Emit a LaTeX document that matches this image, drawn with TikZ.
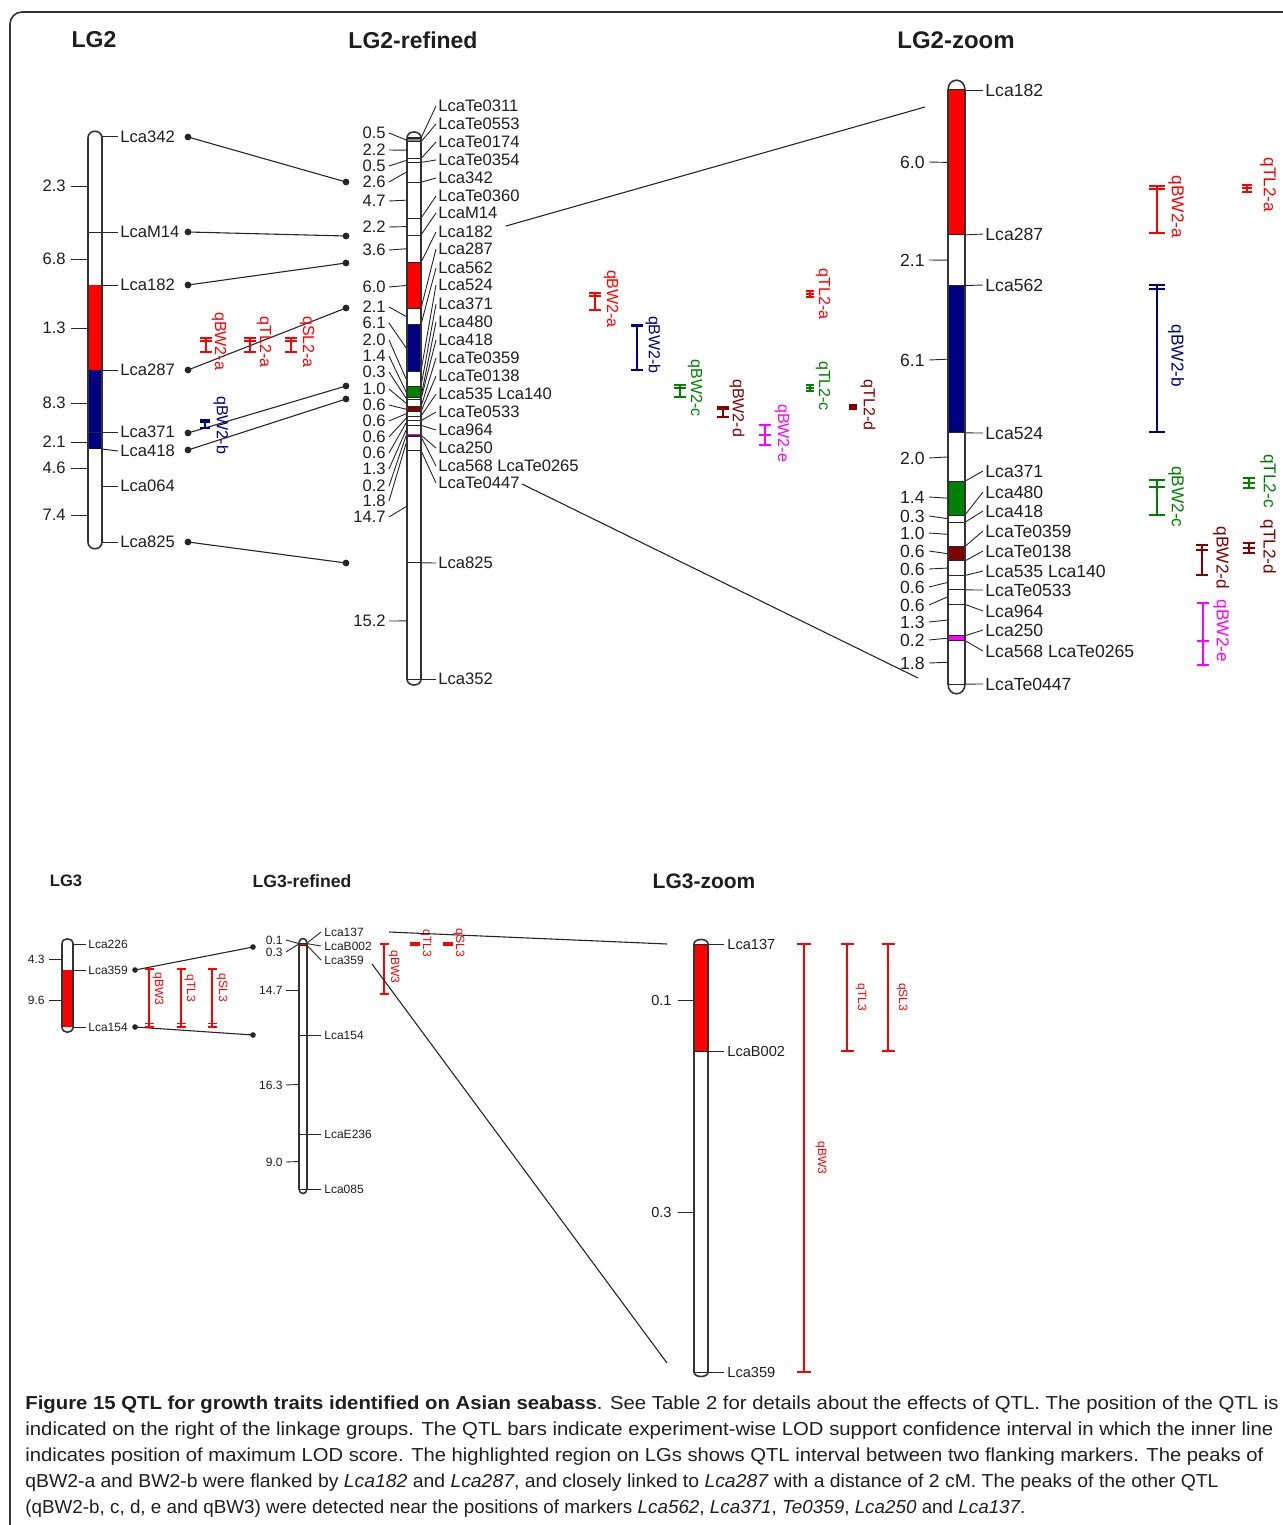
\documentclass[tikz,border=0pt]{standalone}
\usepackage{fontspec}
\usepackage{graphicx}
\setmainfont{Liberation Sans}
\definecolor{ink}{HTML}{1E1E1E}
\definecolor{qred}{HTML}{FF0000}
\definecolor{qnavy}{HTML}{000080}
\definecolor{qgreen}{HTML}{008000}
\definecolor{qdred}{HTML}{800000}
\definecolor{qmag}{HTML}{FF00FF}
\newcommand\chromo[5]{%
  \draw[chromline] (#1,#3) .. controls (#1,#3-#5) and (#2,#3-#5) .. (#2,#3) -- (#2,#4) .. controls (#2,#4+#5) and (#1,#4+#5) .. (#1,#4) -- cycle;}
% x, y1, y2, half width, colour, peak y
\newcommand\qtlbar[6]{%
  \draw[qline,#5] (#1-#4,#2) -- (#1+#4,#2) (#1,#2) -- (#1,#3) (#1-#4,#3) -- (#1+#4,#3) (#1-#4,#6) -- (#1+#4,#6);}
\newcommand\capline[4]{\node[capl] (#1) at (25,#2) {\resizebox{#3}{\height}{#4}};}
\begin{document}
\begin{tikzpicture}[x=0.5pt,y=-0.5pt,
  chromline/.style={draw=black!80,line width=0.8pt},
  mline/.style={draw=black!85,line width=0.5pt},
  lead/.style={draw=black!85,line width=0.45pt},
  link/.style={draw=black!85,line width=0.55pt},
  qline/.style={line width=0.6pt},
  mlab/.style={anchor=west,inner sep=0pt,text=ink,font=\fontsize{8.3}{9}\selectfont},
  dlab/.style={anchor=east,inner sep=0pt,text=ink,font=\fontsize{8.3}{9}\selectfont},
  zlab/.style={anchor=west,inner sep=0pt,text=ink,font=\fontsize{8.8}{9}\selectfont},
  zdlab/.style={anchor=east,inner sep=0pt,text=ink,font=\fontsize{8.8}{9}\selectfont},
  slab/.style={anchor=west,inner sep=0pt,text=ink,font=\fontsize{6}{7}\selectfont},
  sdlab/.style={anchor=east,inner sep=0pt,text=ink,font=\fontsize{6}{7}\selectfont},
  zslab/.style={anchor=west,inner sep=0pt,text=ink,font=\fontsize{7.3}{8}\selectfont},
  zsdlab/.style={anchor=east,inner sep=0pt,text=ink,font=\fontsize{7.3}{8}\selectfont},
  qlab/.style={rotate=-90,inner sep=0pt,font=\fontsize{8}{9}\selectfont},
  zqlab/.style={rotate=-90,inner sep=0pt,font=\fontsize{8.6}{9}\selectfont},
  sqlab/.style={rotate=-90,inner sep=0pt,font=\fontsize{6}{7}\selectfont},
  head/.style={inner sep=0pt,text=ink,font=\bfseries\fontsize{11.5}{12}\selectfont},
  dot/.style={fill=black!85},
  capl/.style={anchor=base west,inner sep=0pt,text=ink,font=\fontsize{9.4}{10}\selectfont},
]
\useasboundingbox (0,0) rectangle (1282,1525);
% frame
\draw[black!80,line width=0.8pt,rounded corners=6pt] (10,1545) -- (10,12) -- (1300,12);

% headings
\node[head] (hLG2) at (94,40) {LG2};
\node[head] (hLG2r) at (413,40) {LG2-refined};
\node[head,font=\bfseries\fontsize{12}{12}\selectfont] (hLG2z) at (956,40) {LG2-zoom};
\node[head,font=\bfseries\fontsize{8.3}{9}\selectfont] (hLG3) at (66,881) {LG3};
\node[head,font=\bfseries\fontsize{8.8}{9}\selectfont] (hLG3r) at (302,881) {LG3-refined};
\node[head,font=\bfseries\fontsize{10.5}{11}\selectfont] (hLG3z) at (704,881) {LG3-zoom};

%% ---------------- LG2 ----------------
\fill[qred] (88,285) rectangle (102,370);
\fill[qnavy] (88,370) rectangle (102,449);
\foreach \y in {232,432} \draw[mline] (88,\y) -- (102,\y);
\chromo{88}{102}{138}{542}{9}
\foreach \yb/\yl/\lab [count=\i] in {137/137/Lca342, 232/232/LcaM14, 285/285/Lca182, 370/370/Lca287, 432/432/Lca371, 449/451/Lca418, 486/486/Lca064, 542/542/Lca825}{
  \node[mlab] (a\i) at (120,\yl) {\lab};
  \draw[mline] (102,\yb) -- (118,\yl);
}
\foreach \lab/\y [count=\i] in {2.3/186, 6.8/259, 1.3/328, 8.3/403, 2.1/442, 4.6/468, 7.4/515}{
  \node[dlab] (ad\i) at (66,\y) {\lab};
  \draw[mline] (71,\y) -- (88,\y);
}
% links LG2 -> LG2-refined
\foreach \nm/\ya/\yb in {a/137/182, b/232/236, c/285/263, d/370/308, e/433/386, f/450/399, g/542/563}{
  \coordinate (L\nm) at (188,\ya); \coordinate (R\nm) at (346,\yb);
  \draw[link] (L\nm) -- (R\nm);
  \fill[dot] (L\nm) circle (1.7pt); \fill[dot] (R\nm) circle (1.7pt);
}
% QTL on LG2
\qtlbar{206}{338}{352}{6}{qred}{341}
\node[qlab,qred] (q1) at (219,341) {qBW2-a};
\qtlbar{250}{338}{352}{6}{qred}{341}
\node[qlab,qred] (q2) at (264,342) {qTL2-a};
\qtlbar{291}{338}{352}{6}{qred}{341}
\node[qlab,qred] (q3) at (307,342) {qSL2-a};
\qtlbar{205}{420}{428}{5}{qnavy}{422}
\node[qlab,qnavy] (q4) at (221,425) {qBW2-b};

%% ---------------- LG2-refined ----------------
\fill[black!45] (407,138) rectangle (421,141.8);
\fill[qred] (407,262.5) rectangle (421,308.4);
\fill[qnavy] (407,324.4) rectangle (421,371);
\fill[qgreen] (407,386.3) rectangle (421,397);
\fill[qdred] (407,406.9) rectangle (421,411.5);
\fill[qmag] (407,434.4) rectangle (421,437.4);
\foreach \yb/\yl/\lab [count=\i] in {138.0/106/LcaTe0311, 141.8/124/LcaTe0553, 158.6/142/LcaTe0174, 162.4/160/LcaTe0354, 182.3/178/Lca342, 218.2/196/LcaTe0360, 235.0/213/LcaM14, 262.5/232/Lca182, 308.4/249/Lca287, 324.4/268/Lca562, 371.0/285/Lca524, 386.3/304/Lca371, 397.0/322/Lca480, 399.3/340/Lca418, 406.9/358/LcaTe0359, 411.5/376/LcaTe0138, 416.1/394/Lca535 Lca140, 420.7/412/LcaTe0533, 425.3/430/Lca964, 435.2/448/Lca250, 436.7/466/Lca568 LcaTe0265, 450.5/483/LcaTe0447, 562.8/563/Lca825, 679.0/679/Lca352}{
  \draw[mline] (407,\yb) -- (421,\yb);
  \node[mlab] (r\i) at (438,\yl) {\lab};
  \draw[lead] (421,\yb) -- (436,\yl);
}
\chromo{407}{421}{138}{679}{8}
\foreach \lab/\yl/\ym [count=\i] in {0.5/133/139.9, 2.2/150/150.2, 0.5/166/160.5, 2.6/182/172.3, 4.7/201/200.2, 2.2/227/226.6, 3.6/250/248.8, 6.0/287/285.5, 2.1/307/316.4, 6.1/323/347.7, 2.0/340/378.7, 1.4/356/391.7, 0.3/372/398.2, 1.0/389/403.1, 0.6/405/409.2, 0.6/421/413.8, 0.6/437/418.4, 0.6/453/423.0, 1.3/469/430.3, 0.2/486/436.0, 1.8/501/443.6, 14.7/517/506.7, 15.2/621/620.9}{
  \node[dlab] (rd\i) at (386,\yl) {\lab};
  \draw[lead] (389,\yl) -- (406,\ym);
}
% links refined -> zoom
\coordinate (zA) at (506,226); \coordinate (zB) at (925,107);
\coordinate (zC) at (522,484); \coordinate (zD) at (918,678);
\draw[link] (zA) -- (zB);
\draw[link] (zC) -- (zD);

% QTL middle
\qtlbar{595}{293}{310}{6}{qred}{296}
\node[qlab,qred] (m1) at (611,299) {qBW2-a};
\qtlbar{637}{325}{370}{6}{qnavy}{326.5}
\node[qlab,qnavy] (m2) at (653,345) {qBW2-b};
\qtlbar{680}{385}{397}{6}{qgreen}{388}
\node[qlab,qgreen] (m3) at (695,388) {qBW2-c};
\qtlbar{723}{407}{417}{6}{qdred}{409}
\node[qlab,qdred] (m4) at (737,408) {qBW2-d};
\qtlbar{765}{425}{445}{6}{qmag}{435}
\node[qlab,qmag] (m5) at (782,433) {qBW2-e};
\qtlbar{810}{291}{297}{4}{qred}{294}
\node[qlab,qred] (m6) at (823,294) {qTL2-a};
\qtlbar{810}{385}{391}{4}{qgreen}{388}
\node[qlab,qgreen] (m7) at (823,386) {qTL2-c};
\qtlbar{853}{405}{409}{4}{qdred}{407}
\node[qlab,qdred] (m8) at (868,405) {qTL2-d};

%% ---------------- LG2-zoom ----------------
\fill[qred] (948,90) rectangle (965,234.9);
\fill[qnavy] (948,285.6) rectangle (965,432.9);
\fill[qgreen] (948,481.2) rectangle (965,515);
\fill[qdred] (948,546.4) rectangle (965,560.9);
\fill[qmag] (948,635.8) rectangle (965,640.6);
\foreach \yb/\yl/\lab [count=\i] in {90/90/Lca182, 234.9/234/Lca287, 285.6/285/Lca562, 432.9/433/Lca524, 481.2/471/Lca371, 515.0/492/Lca480, 522.2/511/Lca418, 546.4/531/LcaTe0359, 560.9/551/LcaTe0138, 575.4/571/Lca535 Lca140, 589.9/590/LcaTe0533, 604.4/611/Lca964, 635.8/630/Lca250, 640.6/651/Lca568 LcaTe0265, 684.1/684/LcaTe0447}{
  \draw[mline] (948,\yb) -- (965,\yb);
  \node[zlab] (z\i) at (985,\yl) {\lab};
  \draw[lead] (965,\yb) -- (983,\yl);
}
\chromo{948}{965}{90}{684}{13}
\foreach \lab/\yl/\ym [count=\i] in {6.0/162/162.4, 2.1/260/260.2, 6.1/360/359.2, 2.0/458/457, 1.4/497/498.1, 0.3/516/518.6, 1.0/533/534.3, 0.6/551/553.6, 0.6/569/568.1, 0.6/587/582.6, 0.6/605/597.1, 1.3/622/620.1, 0.2/640/638.2, 1.8/663/662.3}{
  \node[zdlab] (zd\i) at (925,\yl) {\lab};
  \draw[lead] (929,\yl) -- (947,\ym);
}
% QTL zoom
\qtlbar{1157}{186}{233}{8}{qred}{189}
\node[zqlab,qred] (zq1) at (1176,207) {qBW2-a};
\qtlbar{1247}{185}{192}{5}{qred}{188}
\node[zqlab,qred] (zq2) at (1268,185) {qTL2-a};
\qtlbar{1157}{285}{432}{8}{qnavy}{289}
\node[zqlab,qnavy] (zq3) at (1176,356) {qBW2-b};
\qtlbar{1157}{480}{515}{8}{qgreen}{487}
\node[zqlab,qgreen] (zq4) at (1176,497) {qBW2-c};
\qtlbar{1249}{478}{488}{6}{qgreen}{483}
\node[zqlab,qgreen] (zq5) at (1268,481) {qTL2-c};
\qtlbar{1202}{545}{575}{6}{qdred}{550}
\node[zqlab,qdred] (zq6) at (1221,558) {qBW2-d};
\qtlbar{1249}{543}{553}{6}{qdred}{548}
\node[zqlab,qdred] (zq7) at (1268,547) {qTL2-d};
\qtlbar{1203}{603}{665}{6}{qmag}{641}
\node[zqlab,qmag] (zq8) at (1221,631) {qBW2-e};

%% ---------------- LG3 ----------------
\fill[qred] (62,970) rectangle (73,1027);
\chromo{62}{73}{944}{1027}{7}
\foreach \yb/\lab [count=\i] in {944/Lca226, 970/Lca359, 1027/Lca154}{
  \node[slab] (b\i) at (88,\yb) {\lab};
  \draw[mline] (73,\yb) -- (86,\yb);
}
\foreach \lab/\y [count=\i] in {4.3/959, 9.6/1000}{
  \node[sdlab] (bd\i) at (45,\y) {\lab};
  \draw[mline] (49,\y) -- (62,\y);
}
\coordinate (L3a) at (135,970); \coordinate (R3a) at (253,947);
\coordinate (L3b) at (135,1027); \coordinate (R3b) at (253,1035);
\draw[link] (L3a) -- (R3a); \draw[link] (L3b) -- (R3b);
\foreach \p in {L3a,R3a,L3b,R3b} \fill[dot] (\p) circle (1.4pt);
\qtlbar{149}{969}{1027}{4.5}{qred}{1023.5}
\node[sqlab,qred] (bq1) at (158,989) {qBW3};
\qtlbar{181}{969}{1027}{4.5}{qred}{1023.5}
\node[sqlab,qred] (bq2) at (190,988) {qTL3};
\qtlbar{212}{969}{1027}{4.5}{qred}{1023.5}
\node[sqlab,qred] (bq3) at (222,988) {qSL3};

%% ---------------- LG3-refined ----------------
\fill[qred] (299,943) rectangle (307,946);
\foreach \yb/\yl/\lab [count=\i] in {943/932/Lca137, 943.6/946/LcaB002, 945.4/960/Lca359, 1035/1035/Lca154, 1134/1134/LcaE236, 1189/1189/Lca085}{
  \draw[mline] (299,\yb) -- (307,\yb);
  \node[slab] (c\i) at (324,\yl) {\lab};
  \draw[lead] (307,\yb) -- (321,\yl);
}
\chromo{299}{307}{943}{1189}{6}
\foreach \lab/\yl/\ym [count=\i] in {0.1/940/943.3, 0.3/952/944.5, 14.7/990/990, 16.3/1085/1084.5, 9.0/1162/1161.5}{
  \node[sdlab] (cd\i) at (283,\yl) {\lab};
  \draw[lead] (286,\yl) -- (298,\ym);
}
\qtlbar{384}{944}{994}{4.5}{qred}{944}
\node[sqlab,qred] (cq1) at (394,967) {qBW3};
\qtlbar{415}{943}{945}{5}{qred}{944}
\node[sqlab,qred] (cq2) at (426,943) {qTL3};
\qtlbar{448}{943}{945}{5}{qred}{944}
\node[sqlab,qred] (cq3) at (459,943) {qSL3};
% links refined -> zoom
\coordinate (yA) at (389,932); \coordinate (yB) at (667,944);
\coordinate (yC) at (372,964); \coordinate (yD) at (667,1363);
\draw[link] (yA) -- (yB);
\draw[link] (yC) -- (yD);

%% ---------------- LG3-zoom ----------------
\fill[qred] (694,944) rectangle (708,1051);
\foreach \yb/\lab [count=\i] in {944/Lca137, 1051/LcaB002, 1372/Lca359}{
  \draw[mline] (694,\yb) -- (708,\yb);
  \node[zslab] (e\i) at (727,\yb) {\lab};
  \draw[mline] (708,\yb) -- (724,\yb);
}
\chromo{694}{708}{944}{1372}{6}
\foreach \lab/\y [count=\i] in {0.1/1000, 0.3/1212}{
  \node[zsdlab] (ed\i) at (672,\y) {\lab};
  \draw[mline] (678,\y) -- (694,\y);
}
\qtlbar{804}{944}{1372}{7}{qred}{944}
\node[sqlab,qred] (eq1) at (821,1158) {qBW3};
\qtlbar{847}{944}{1051}{6.5}{qred}{944}
\node[sqlab,qred] (eq2) at (861,997) {qTL3};
\qtlbar{888}{944}{1051}{6.5}{qred}{944}
\node[sqlab,qred] (eq3) at (902,997) {qSL3};

%% ---------------- caption ----------------
\capline{cap1}{1409}{626.5pt}{\textbf{Figure 15 QTL for growth traits identified on Asian seabass}. See Table 2 for details about the effects of QTL. The position of the QTL is}
\capline{cap2}{1435}{624pt}{indicated on the right of the linkage groups. The QTL bars indicate experiment-wise LOD support confidence interval in which the inner line}
\capline{cap3}{1461}{619pt}{indicates position of maximum LOD score. The highlighted region on LGs shows QTL interval between two flanking markers. The peaks of}
\capline{cap4}{1487}{596.5pt}{qBW2-a and BW2-b were flanked by \textit{Lca182} and \textit{Lca287}, and closely linked to \textit{Lca287} with a distance of 2 cM. The peaks of the other QTL}
\capline{cap5}{1513}{500pt}{(qBW2-b, c, d, e and qBW3) were detected near the positions of markers \textit{Lca562}, \textit{Lca371}, \textit{Te0359}, \textit{Lca250} and \textit{Lca137}.}
\end{tikzpicture}
\end{document}
